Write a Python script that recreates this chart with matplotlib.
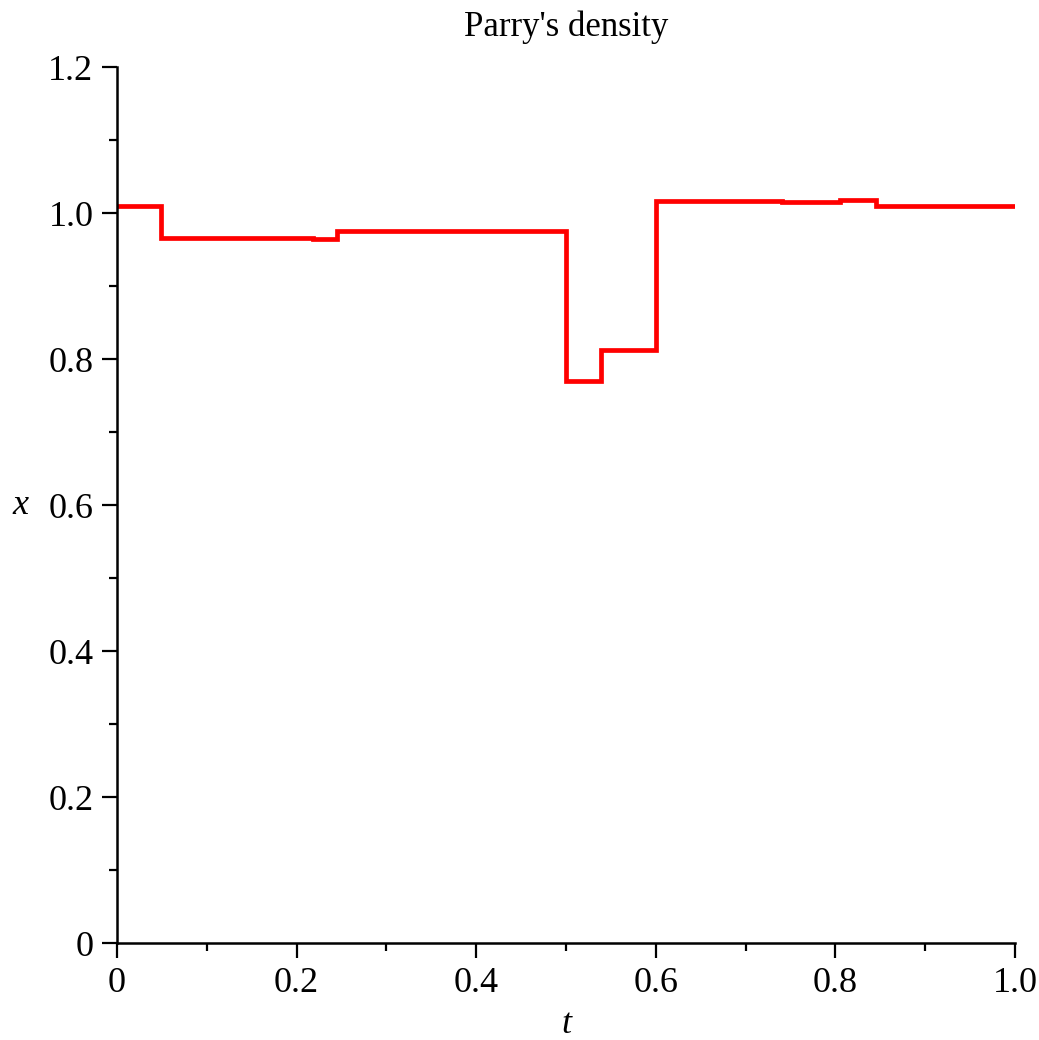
import matplotlib
matplotlib.use("Agg")
import matplotlib.pyplot as plt
from matplotlib.ticker import MultipleLocator

# Step boundaries (t) and density level on each interval
edges = [0.0, 0.049, 0.218, 0.245, 0.5, 0.539, 0.6, 0.740, 0.805, 0.845, 1.0]
levels = [1.009, 0.966, 0.965, 0.975, 0.770, 0.812, 1.017, 1.015, 1.018, 1.009]

x_ticks = [0, 0.2, 0.4, 0.6, 0.8, 1.0]
x_tick_labels = ["0", "0.2", "0.4", "0.6", "0.8", "1.0"]
y_ticks = [0, 0.2, 0.4, 0.6, 0.8, 1.0, 1.2]
y_tick_labels = ["0", "0.2", "0.4", "0.6", "0.8", "1.0", "1.2"]

plt.rcParams['font.family'] = ['Liberation Serif', 'DejaVu Serif']

fig = plt.figure(figsize=(10.39, 10.40), dpi=100)
ax = fig.add_axes([117/1039, 1 - 943/1040, (1015 - 117)/1039, (943 - 67)/1040])

ax.stairs(levels, edges, color='#ff0000', linewidth=3.4, baseline=None)

ax.set_xlim(0, 1.0)
ax.set_ylim(0, 1.2)
ax.set_xticks(x_ticks)
ax.set_xticklabels(x_tick_labels)
ax.set_yticks(y_ticks)
ax.set_yticklabels(y_tick_labels)
ax.xaxis.set_minor_locator(MultipleLocator(0.1))
ax.yaxis.set_minor_locator(MultipleLocator(0.1))

for s in ['top', 'right']:
    ax.spines[s].set_visible(False)
for s in ['left', 'bottom']:
    ax.spines[s].set_linewidth(1.8)
    ax.spines[s].set_color('black')

ax.tick_params(which='major', direction='out', length=11, width=1.6, labelsize=26, pad=6)
ax.tick_params(which='minor', direction='out', length=5.5, width=1.6)

ax.set_title("Parry's density", fontsize=25, pad=22)
ax.set_xlabel("t", fontsize=26, style='italic', labelpad=6)
ax.set_ylabel("x", fontsize=26, style='italic', rotation=0, labelpad=20, va='center')

fig.savefig("out.png", dpi=100)
